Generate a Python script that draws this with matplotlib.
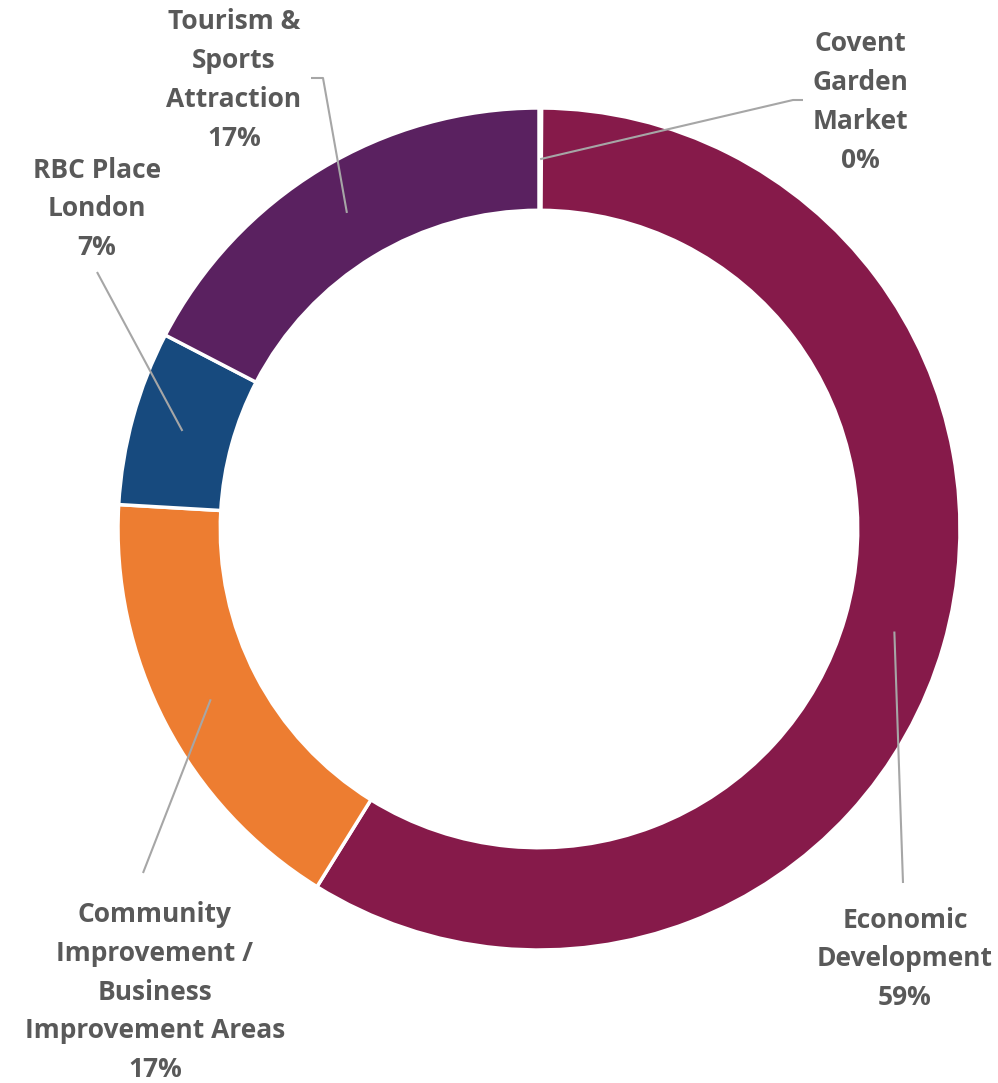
import matplotlib
matplotlib.use("Agg")
import matplotlib.pyplot as plt
import numpy as np

categories = ["Covent\nGarden\nMarket", "Economic\nDevelopment",
              "Community\nImprovement /\nBusiness\nImprovement Areas",
              "RBC Place\nLondon", "Tourism &\nSports\nAttraction"]
values = [0.1, 58.8, 17.1, 6.7, 17.4]
pct_labels = ["0%", "59%", "17%", "7%", "17%"]
colors = ["#8B8B8B", "#861A4A", "#ED7D31", "#174A7E", "#5A2160"]

W, H = 998, 1083
CX, CY, R = 539, 529, 421
fig = plt.figure(figsize=(W / 100, H / 100), dpi=100)
ax = fig.add_axes([0, 0, 1, 1])

def px(x, y):
    return ((x - CX) / R, (CY - y) / R)

wedges, _ = ax.pie(values, colors=colors, startangle=90, counterclock=False,
                   radius=1.0, wedgeprops=dict(width=0.243, edgecolor="white", linewidth=2.5))
ax.set_aspect("auto")
ax.set_xlim(-CX / R, (W - CX) / R)
ax.set_ylim(-(H - CY) / R, CY / R)
ax.axis("off")

# label positions (pixel), leader-line end points (pixel)
label_pos = [(860, 102), (905, 959), (155, 992), (97, 209), (234, 80)]
line_end = [[(793, 100), (803, 100)], [(903, 883)], [(143, 873)], [(97, 272)], [(323, 78), (311, 78)]]

total = sum(values)
cum = 0
rmid = 1 - 0.243 / 2
for i, v in enumerate(values):
    mid = (cum + v / 2) / total * 2 * np.pi
    cum += v
    sx, sy = rmid * np.sin(mid), rmid * np.cos(mid)
    pts = [(sx, sy)] + [px(*p) for p in line_end[i]]
    xs, ys = zip(*pts)
    ax.plot(xs, ys, color="#A6A6A6", lw=1.5, solid_capstyle="butt")
    tx, ty = px(*label_pos[i])
    ax.text(tx, ty, categories[i] + "\n" + pct_labels[i], ha="center", va="center",
            fontsize=19, fontweight="bold", family="Open Sans", color="#595959",
            linespacing=1.57)

fig.savefig("out.png", dpi=100)
